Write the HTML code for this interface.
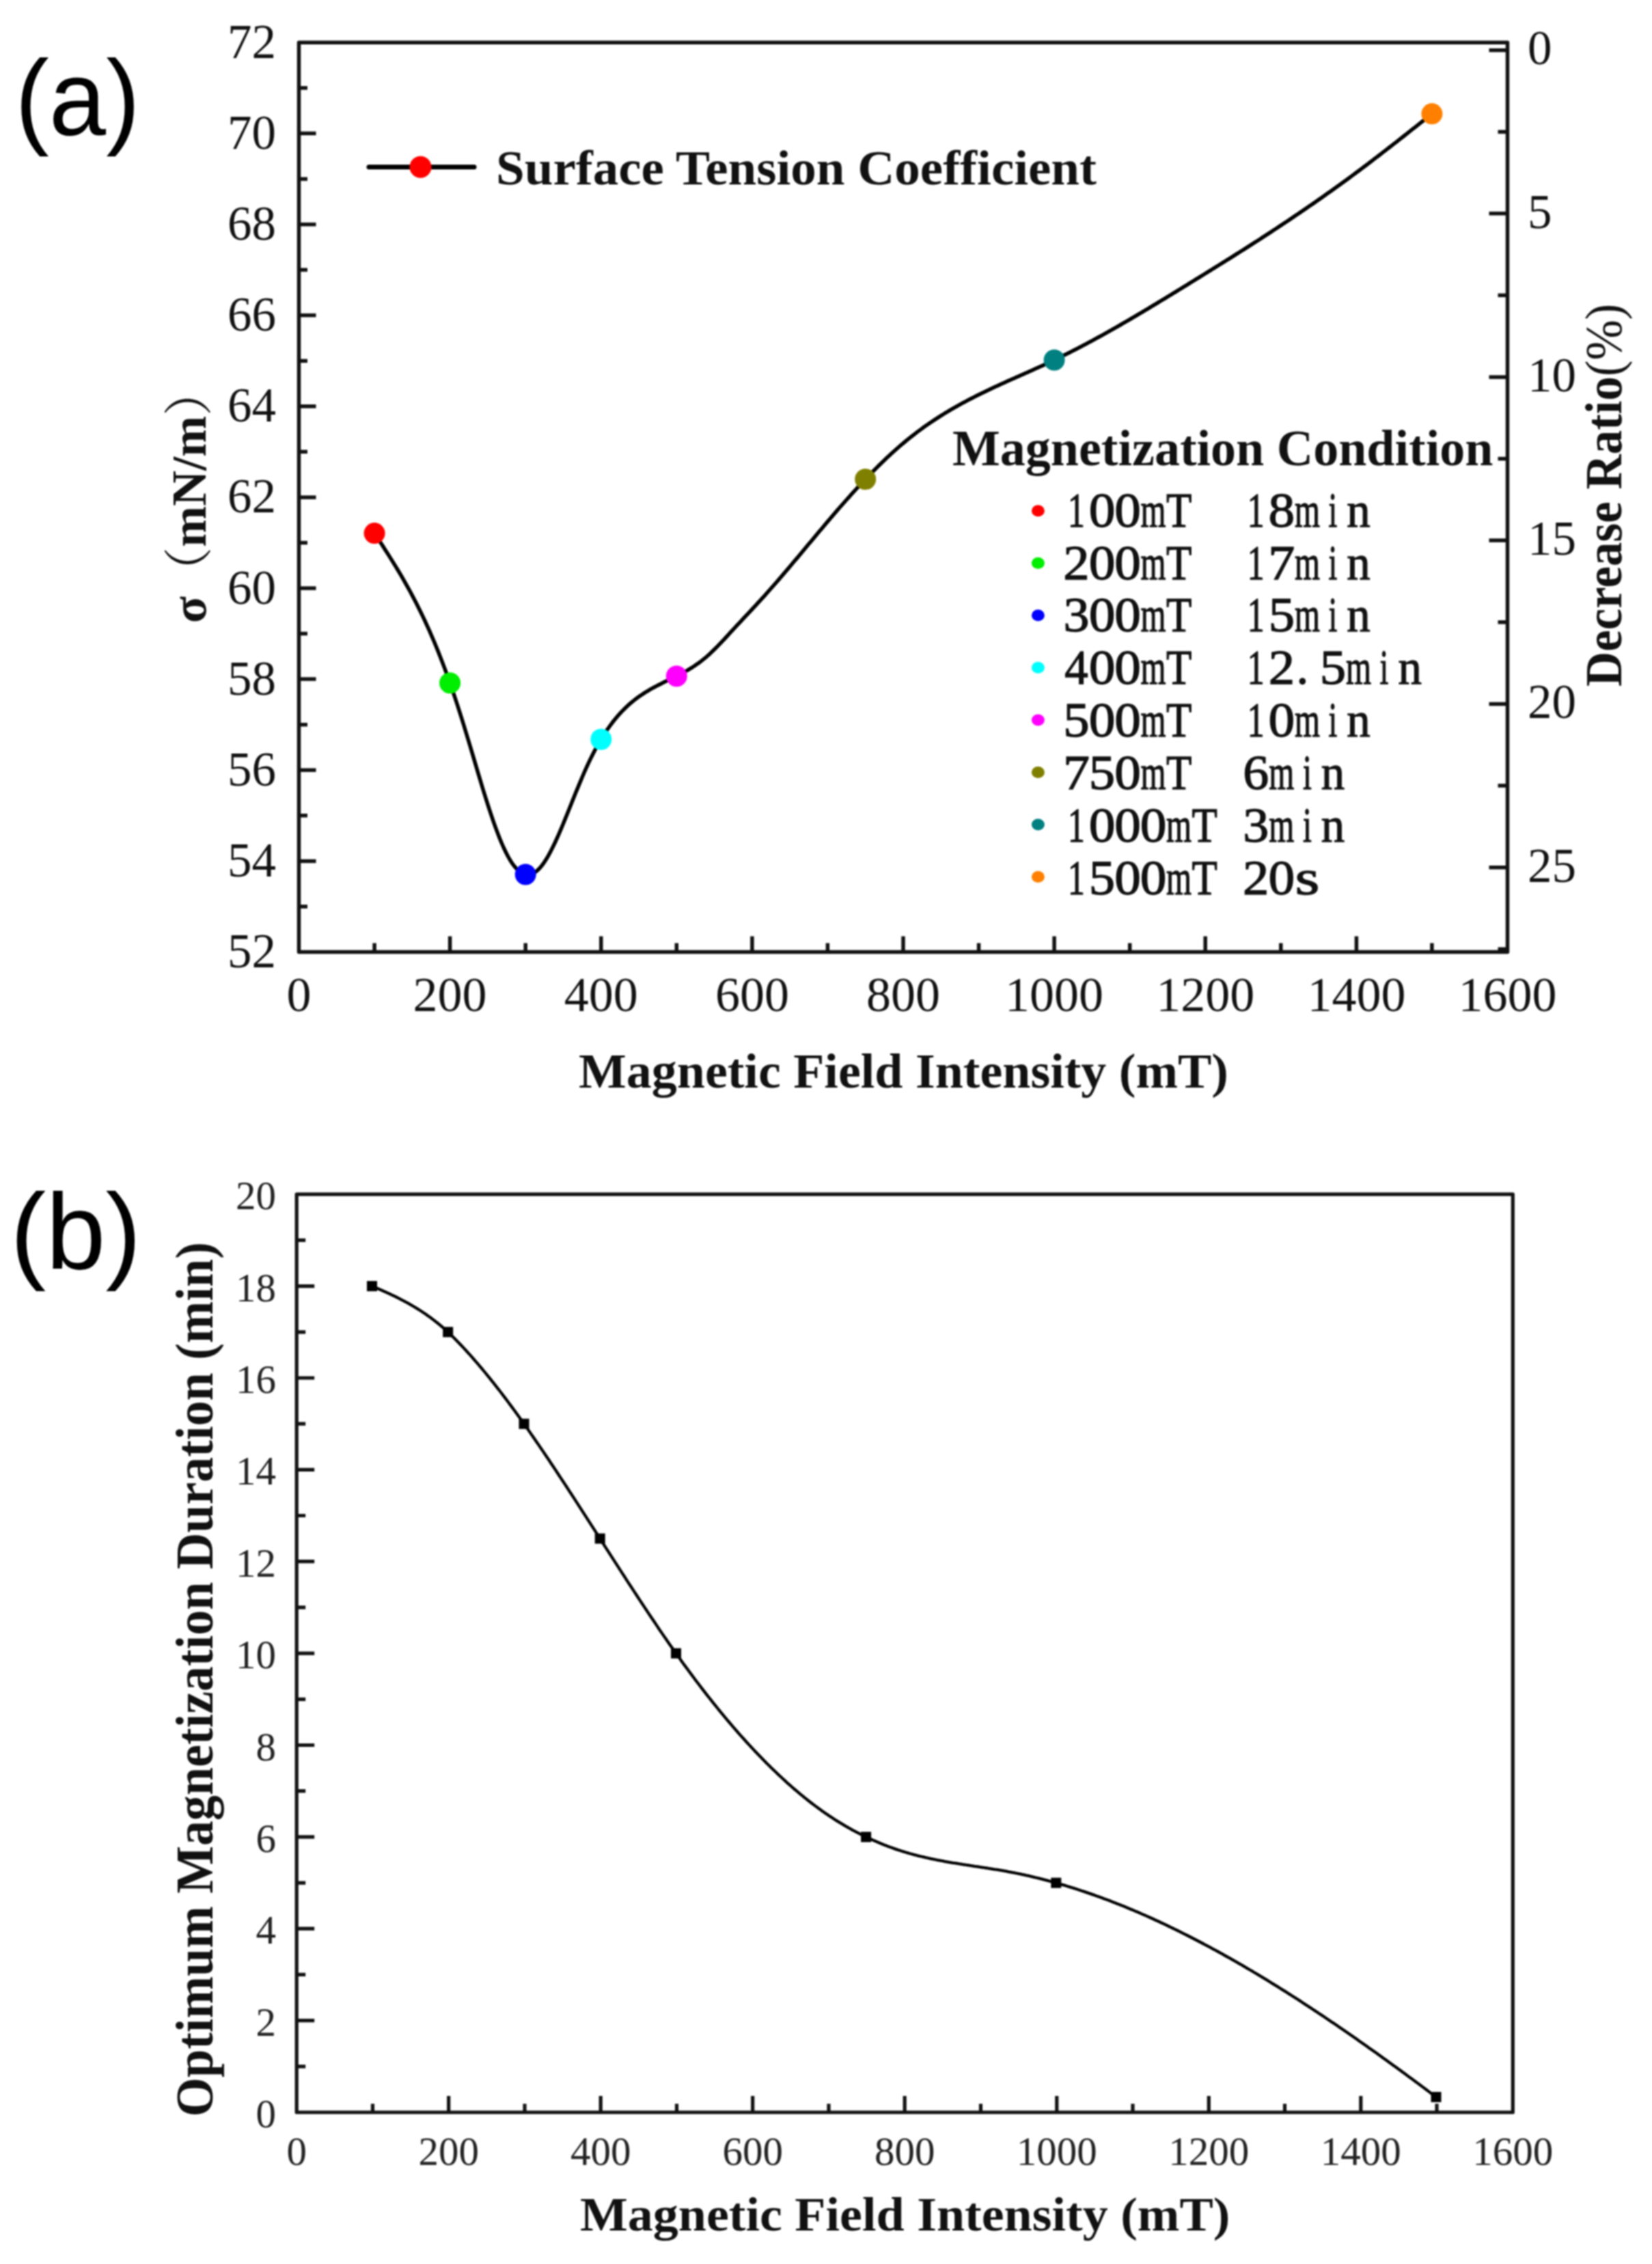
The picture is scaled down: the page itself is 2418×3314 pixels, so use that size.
<!DOCTYPE html>
<html><head><meta charset="utf-8"><title>Figure</title>
<style>html,body{margin:0;padding:0;background:#fff;}svg{display:block;filter:blur(1.1px);}</style></head>
<body><svg width="2418" height="3314" viewBox="0 0 2418 3314">
<rect width="2418" height="3314" fill="#fff"/>
<path d="M437.5 1326.9h12.5 M437.5 1260.4h25 M437.5 1193.8h12.5 M437.5 1127.2h25 M437.5 1060.7h12.5 M437.5 994.1h25 M437.5 927.5h12.5 M437.5 861h25 M437.5 794.4h12.5 M437.5 727.9h25 M437.5 661.3h12.5 M437.5 594.7h25 M437.5 528.2h12.5 M437.5 461.6h25 M437.5 395h12.5 M437.5 328.5h25 M437.5 261.9h12.5 M437.5 195.3h25 M437.5 128.8h12.5 M548.1 1393.5v-13 M658.6 1393.5v-23 M769.2 1393.5v-13 M879.8 1393.5v-23 M990.3 1393.5v-13 M1100.9 1393.5v-23 M1211.4 1393.5v-13 M1322 1393.5v-23 M1432.6 1393.5v-13 M1543.1 1393.5v-23 M1653.7 1393.5v-13 M1764.2 1393.5v-23 M1874.8 1393.5v-13 M1985.4 1393.5v-23 M2095.9 1393.5v-13 M2206.5 73.4h-27 M2206.5 193h-14 M2206.5 312.6h-27 M2206.5 432.3h-14 M2206.5 551.9h-27 M2206.5 671.5h-14 M2206.5 791.1h-27 M2206.5 910.8h-14 M2206.5 1030.4h-27 M2206.5 1150h-14 M2206.5 1269.7h-27 M2206.5 1389.3h-14" stroke="#111" stroke-width="5.5" fill="none"/>
<rect x="437.5" y="62.2" width="1769" height="1331.3" stroke="#111" stroke-width="5.5" fill="none" stroke-linejoin="round"/>
<g font-family="Liberation Serif, Times New Roman, serif" font-size="71" fill="#111" text-anchor="end">
<text x="404" y="1416">52</text>
<text x="404" y="1282.9">54</text>
<text x="404" y="1149.7">56</text>
<text x="404" y="1016.6">58</text>
<text x="404" y="883.5">60</text>
<text x="404" y="750.4">62</text>
<text x="404" y="617.2">64</text>
<text x="404" y="484.1">66</text>
<text x="404" y="351">68</text>
<text x="404" y="217.8">70</text>
<text x="404" y="84.7">72</text>
</g>
<g font-family="Liberation Serif, Times New Roman, serif" font-size="71" fill="#111" text-anchor="start">
<text x="2236" y="94.4">0</text>
<text x="2236" y="333.6">5</text>
<text x="2236" y="572.9">10</text>
<text x="2236" y="812.1">15</text>
<text x="2236" y="1051.4">20</text>
<text x="2236" y="1290.7">25</text>
</g>
<g font-family="Liberation Serif, Times New Roman, serif" font-size="72" fill="#111" text-anchor="middle">
<text x="437.5" y="1480">0</text>
<text x="658.6" y="1480">200</text>
<text x="879.8" y="1480">400</text>
<text x="1100.9" y="1480">600</text>
<text x="1322" y="1480">800</text>
<text x="1543.1" y="1480">1000</text>
<text x="1764.2" y="1480">1200</text>
<text x="1985.4" y="1480">1400</text>
<text x="2206.5" y="1480">1600</text>
</g>
<text font-family="Liberation Serif, Times New Roman, serif" font-weight="bold" font-size="72" fill="#111" x="847" y="1591.5" textLength="951" lengthAdjust="spacingAndGlyphs">Magnetic Field Intensity (mT)</text>
<text font-family="Liberation Serif, Times New Roman, serif" font-weight="bold" font-size="71" fill="#111" transform="translate(2372.5,1005) rotate(-90) scale(1,1.07)" x="0" y="0">Decrease Ratio<tspan font-weight="normal">(%)</tspan></text>
<text font-family="Liberation Serif, Times New Roman, serif" font-weight="bold" font-size="72" fill="#111" transform="translate(301,912) rotate(-90)" x="0" y="0"><tspan font-family="Liberation Serif, serif">σ</tspan><tspan font-weight="normal" font-family="Liberation Serif, Noto Serif CJK SC, serif">（</tspan>mN/m<tspan font-weight="normal" font-family="Liberation Serif, Noto Serif CJK SC, serif">）</tspan></text>
<path d="M548.1 780.6 L551.2 785.3 L554.3 790.1 L557.4 794.8 L560.5 799.6 L563.6 804.4 L566.7 809.2 L569.8 814.1 L572.9 819.1 L576 824.1 L579.1 829.1 L582.2 834.2 L585.3 839.4 L588.4 844.7 L591.5 850.1 L594.6 855.6 L597.7 861.1 L600.8 866.8 L603.9 872.6 L607 878.5 L610.1 884.5 L613.2 890.7 L616.3 897 L619.4 903.4 L622.5 910 L625.6 916.8 L628.7 923.7 L631.8 930.8 L634.9 938 L638 945.5 L641.1 953.1 L644.2 960.9 L647.3 968.9 L650.4 977.1 L653.5 985.5 L656.6 994.1 L659.7 1002.9 L662.8 1011.9 L665.9 1021.1 L669 1030.5 L672.1 1040.1 L675.2 1049.9 L678.3 1059.8 L681.4 1070 L684.5 1080.3 L687.7 1090.7 L690.8 1101.1 L693.9 1111.6 L697 1122.1 L700.1 1132.6 L703.2 1142.9 L706.3 1153.2 L709.4 1163.2 L712.5 1173.1 L715.6 1182.8 L718.7 1192.2 L721.8 1201.3 L724.9 1210.1 L728 1218.4 L731.1 1226.4 L734.2 1234 L737.3 1241 L740.4 1247.5 L743.5 1253.5 L746.6 1259 L749.7 1263.8 L752.8 1267.9 L755.9 1271.5 L759 1274.5 L762.1 1276.8 L765.2 1278.6 L768.3 1279.7 L771.4 1280.3 L774.5 1280.2 L777.6 1279.5 L780.7 1278.2 L783.8 1276.3 L786.9 1273.8 L790 1270.7 L793.1 1267 L796.2 1262.8 L799.3 1258 L802.4 1252.8 L805.5 1247.2 L808.6 1241.1 L811.7 1234.7 L814.8 1228 L817.9 1221.1 L821 1213.9 L824.1 1206.5 L827.2 1198.9 L830.3 1191.2 L833.4 1183.5 L836.5 1175.7 L839.6 1168 L842.7 1160.2 L845.9 1152.6 L849 1145.1 L852.1 1137.7 L855.2 1130.5 L858.3 1123.6 L861.4 1116.9 L864.5 1110.4 L867.6 1104.2 L870.7 1098.2 L873.8 1092.5 L876.9 1087 L880 1081.8 L883.1 1076.7 L886.2 1071.9 L889.3 1067.3 L892.4 1063 L895.5 1058.8 L898.6 1054.8 L901.7 1051 L904.8 1047.3 L907.9 1043.9 L911 1040.6 L914.1 1037.5 L917.2 1034.5 L920.3 1031.6 L923.4 1028.9 L926.5 1026.3 L929.6 1023.9 L932.7 1021.5 L935.8 1019.3 L938.9 1017.2 L942 1015.1 L945.1 1013.1 L948.2 1011.3 L951.3 1009.4 L954.4 1007.7 L957.5 1006 L960.6 1004.4 L963.7 1002.8 L966.8 1001.2 L969.9 999.6 L973 998.1 L976.1 996.6 L979.2 995.1 L982.3 993.6 L985.4 992.1 L988.5 990.5 L991.6 989 L994.7 987.4 L997.8 985.8 L1000.9 984.1 L1004 982.4 L1007.2 980.6 L1010.3 978.7 L1013.4 976.8 L1016.5 974.8 L1019.6 972.6 L1022.7 970.4 L1025.8 968.1 L1028.9 965.7 L1032 963.2 L1035.1 960.5 L1038.2 957.7 L1041.3 954.8 L1044.4 951.8 L1047.5 948.7 L1050.6 945.6 L1053.7 942.4 L1056.8 939.1 L1059.9 935.8 L1063 932.5 L1066.1 929.1 L1069.2 925.7 L1072.3 922.4 L1075.4 919 L1078.5 915.7 L1081.6 912.4 L1084.7 909.1 L1087.8 905.7 L1090.9 902.4 L1094 899.1 L1097.1 895.8 L1100.2 892.5 L1103.3 889.1 L1106.4 885.8 L1109.5 882.4 L1112.6 879.1 L1115.7 875.7 L1118.8 872.3 L1121.9 868.8 L1125 865.3 L1128.1 861.8 L1131.2 858.3 L1134.3 854.8 L1137.4 851.2 L1140.5 847.6 L1143.6 844 L1146.7 840.4 L1149.8 836.7 L1152.9 833.1 L1156 829.4 L1159.1 825.8 L1162.2 822.1 L1165.4 818.4 L1168.5 814.7 L1171.6 811 L1174.7 807.3 L1177.8 803.5 L1180.9 799.8 L1184 796.1 L1187.1 792.4 L1190.2 788.7 L1193.3 785 L1196.4 781.3 L1199.5 777.6 L1202.6 773.9 L1205.7 770.2 L1208.8 766.5 L1211.9 762.9 L1215 759.2 L1218.1 755.6 L1221.2 752 L1224.3 748.4 L1227.4 744.8 L1230.5 741.3 L1233.6 737.7 L1236.7 734.2 L1239.8 730.7 L1242.9 727.3 L1246 723.8 L1249.1 720.4 L1252.2 717 L1255.3 713.6 L1258.4 710.3 L1261.5 707 L1264.6 703.7 L1267.7 700.4 L1270.8 697.2 L1273.9 694 L1277 690.8 L1280.1 687.7 L1283.2 684.6 L1286.3 681.5 L1289.4 678.5 L1292.5 675.5 L1295.6 672.5 L1298.7 669.6 L1301.8 666.7 L1304.9 663.8 L1308 661 L1311.1 658.2 L1314.2 655.5 L1317.3 652.8 L1320.4 650.1 L1323.6 647.5 L1326.7 644.9 L1329.8 642.4 L1332.9 639.9 L1336 637.5 L1339.1 635.1 L1342.2 632.7 L1345.3 630.4 L1348.4 628.1 L1351.5 625.8 L1354.6 623.6 L1357.7 621.5 L1360.8 619.3 L1363.9 617.2 L1367 615.1 L1370.1 613.1 L1373.2 611.1 L1376.3 609.1 L1379.4 607.2 L1382.5 605.2 L1385.6 603.4 L1388.7 601.5 L1391.8 599.7 L1394.9 597.9 L1398 596.1 L1401.1 594.3 L1404.2 592.6 L1407.3 590.9 L1410.4 589.2 L1413.5 587.6 L1416.6 585.9 L1419.7 584.3 L1422.8 582.7 L1425.9 581.1 L1429 579.5 L1432.1 578 L1435.2 576.5 L1438.3 574.9 L1441.4 573.4 L1444.5 571.9 L1447.6 570.5 L1450.7 569 L1453.8 567.5 L1456.9 566.1 L1460 564.7 L1463.1 563.2 L1466.2 561.8 L1469.3 560.4 L1472.4 559 L1475.5 557.6 L1478.6 556.2 L1481.8 554.8 L1484.9 553.5 L1488 552.1 L1491.1 550.7 L1494.2 549.3 L1497.3 547.9 L1500.4 546.5 L1503.5 545.2 L1506.6 543.8 L1509.7 542.4 L1512.8 541 L1515.9 539.6 L1519 538.2 L1522.1 536.8 L1525.2 535.4 L1528.3 533.9 L1531.4 532.5 L1534.5 531.1 L1537.6 529.6 L1540.7 528.1 L1543.8 526.7 L1546.9 525.2 L1550 523.7 L1553.1 522.2 L1556.2 520.6 L1559.3 519.1 L1562.4 517.5 L1565.5 516 L1568.6 514.4 L1571.7 512.8 L1574.8 511.2 L1577.9 509.6 L1581 508 L1584.1 506.4 L1587.2 504.7 L1590.3 503.1 L1593.4 501.4 L1596.5 499.8 L1599.6 498.1 L1602.7 496.4 L1605.8 494.7 L1608.9 493 L1612 491.3 L1615.1 489.6 L1618.2 487.8 L1621.3 486.1 L1624.4 484.3 L1627.5 482.6 L1630.6 480.8 L1633.7 479.1 L1636.8 477.3 L1640 475.5 L1643.1 473.7 L1646.2 471.9 L1649.3 470.1 L1652.4 468.3 L1655.5 466.5 L1658.6 464.7 L1661.7 462.8 L1664.8 461 L1667.9 459.2 L1671 457.3 L1674.1 455.5 L1677.2 453.6 L1680.3 451.8 L1683.4 449.9 L1686.5 448 L1689.6 446.2 L1692.7 444.3 L1695.8 442.4 L1698.9 440.5 L1702 438.6 L1705.1 436.8 L1708.2 434.9 L1711.3 433 L1714.4 431.1 L1717.5 429.2 L1720.6 427.3 L1723.7 425.4 L1726.8 423.5 L1729.9 421.6 L1733 419.7 L1736.1 417.8 L1739.2 415.9 L1742.3 413.9 L1745.4 412 L1748.5 410.1 L1751.6 408.2 L1754.7 406.3 L1757.8 404.4 L1760.9 402.5 L1764 400.5 L1767.1 398.6 L1770.2 396.7 L1773.3 394.8 L1776.4 392.8 L1779.5 390.9 L1782.6 389 L1785.7 387 L1788.8 385.1 L1791.9 383.2 L1795 381.2 L1798.1 379.3 L1801.3 377.3 L1804.4 375.4 L1807.5 373.4 L1810.6 371.4 L1813.7 369.5 L1816.8 367.5 L1819.9 365.6 L1823 363.6 L1826.1 361.6 L1829.2 359.6 L1832.3 357.6 L1835.4 355.6 L1838.5 353.7 L1841.6 351.7 L1844.7 349.7 L1847.8 347.6 L1850.9 345.6 L1854 343.6 L1857.1 341.6 L1860.2 339.6 L1863.3 337.5 L1866.4 335.5 L1869.5 333.5 L1872.6 331.4 L1875.7 329.4 L1878.8 327.3 L1881.9 325.2 L1885 323.2 L1888.1 321.1 L1891.2 319 L1894.3 316.9 L1897.4 314.8 L1900.5 312.7 L1903.6 310.6 L1906.7 308.5 L1909.8 306.4 L1912.9 304.3 L1916 302.1 L1919.1 300 L1922.2 297.9 L1925.3 295.7 L1928.4 293.5 L1931.5 291.4 L1934.6 289.2 L1937.7 287 L1940.8 284.8 L1943.9 282.6 L1947 280.4 L1950.1 278.2 L1953.2 276 L1956.3 273.8 L1959.5 271.5 L1962.6 269.3 L1965.7 267 L1968.8 264.8 L1971.9 262.5 L1975 260.2 L1978.1 257.9 L1981.2 255.6 L1984.3 253.3 L1987.4 251 L1990.5 248.7 L1993.6 246.4 L1996.7 244 L1999.8 241.7 L2002.9 239.3 L2006 237 L2009.1 234.6 L2012.2 232.2 L2015.3 229.9 L2018.4 227.5 L2021.5 225.1 L2024.6 222.7 L2027.7 220.3 L2030.8 217.9 L2033.9 215.5 L2037 213.1 L2040.1 210.7 L2043.2 208.3 L2046.3 205.8 L2049.4 203.4 L2052.5 201 L2055.6 198.5 L2058.7 196.1 L2061.8 193.6 L2064.9 191.2 L2068 188.7 L2071.1 186.3 L2074.2 183.8 L2077.3 181.4 L2080.4 178.9 L2083.5 176.5 L2086.6 174 L2089.7 171.5 L2092.8 169.1 L2095.9 166.6" stroke="#000" stroke-width="5.5" fill="none" stroke-linejoin="round" stroke-linecap="round"/>
<circle cx="548.1" cy="780.6" r="15.5" fill="#ff0000"/>
<circle cx="658.6" cy="999.7" r="15.5" fill="#00ee00"/>
<circle cx="769.2" cy="1280" r="15.5" fill="#0000ff"/>
<circle cx="879.8" cy="1082.2" r="15.5" fill="#00ffff"/>
<circle cx="990.3" cy="989.7" r="15.5" fill="#ff00ff"/>
<circle cx="1266.7" cy="701.5" r="15.5" fill="#808000"/>
<circle cx="1543.1" cy="527" r="15.5" fill="#008080"/>
<circle cx="2095.9" cy="166.6" r="15.5" fill="#ff8000"/>
<path d="M540 244.5H694" stroke="#000" stroke-width="7" stroke-linecap="round"/>
<circle cx="615.5" cy="244.5" r="16" fill="#ff0000"/>
<text font-family="Liberation Serif, Times New Roman, serif" font-weight="bold" font-size="72" fill="#111" x="726" y="269.5" textLength="879" lengthAdjust="spacingAndGlyphs">Surface Tension Coefficient</text>
<text font-family="Liberation Serif, Times New Roman, serif" font-weight="bold" font-size="74" fill="#111" x="1394" y="681">Magnetization Condition</text>
<g font-family="Liberation Serif, Times New Roman, serif" font-size="71" fill="#111" stroke="#111" stroke-width="1.3" text-anchor="middle">
<ellipse cx="1519.4" cy="747.7" rx="9.5" ry="8.5" fill="#ff0000" stroke="none"/>
<text transform="translate(1575.4,770.6) scale(0.7,1)">1</text>
<text transform="translate(1613,770.6) scale(1.09,1)">0</text>
<text transform="translate(1650.5,770.6) scale(1.09,1)">0</text>
<text transform="translate(1688.1,770.6) scale(0.67,1)">m</text>
<text transform="translate(1725.6,770.6) scale(0.86,1)">T</text>
<text transform="translate(1838.2,770.6) scale(0.7,1)">1</text>
<text transform="translate(1875.8,770.6) scale(1.09,1)">8</text>
<text transform="translate(1913.4,770.6) scale(0.67,1)">m</text>
<text transform="translate(1950.9,770.6) scale(0.65,1)">i</text>
<text transform="translate(1988.5,770.6) scale(0.97,1)">n</text>
<ellipse cx="1519.4" cy="824.2" rx="9.5" ry="8.5" fill="#00ee00" stroke="none"/>
<text transform="translate(1575.4,847.5) scale(1.08,1)">2</text>
<text transform="translate(1613,847.5) scale(1.09,1)">0</text>
<text transform="translate(1650.5,847.5) scale(1.09,1)">0</text>
<text transform="translate(1688.1,847.5) scale(0.67,1)">m</text>
<text transform="translate(1725.6,847.5) scale(0.86,1)">T</text>
<text transform="translate(1838.2,847.5) scale(0.7,1)">1</text>
<text transform="translate(1875.8,847.5) scale(1.1,1)">7</text>
<text transform="translate(1913.4,847.5) scale(0.67,1)">m</text>
<text transform="translate(1950.9,847.5) scale(0.65,1)">i</text>
<text transform="translate(1988.5,847.5) scale(0.97,1)">n</text>
<ellipse cx="1519.4" cy="900.8" rx="9.5" ry="8.5" fill="#0000ff" stroke="none"/>
<text transform="translate(1575.4,924.4) scale(1.07,1)">3</text>
<text transform="translate(1613,924.4) scale(1.09,1)">0</text>
<text transform="translate(1650.5,924.4) scale(1.09,1)">0</text>
<text transform="translate(1688.1,924.4) scale(0.67,1)">m</text>
<text transform="translate(1725.6,924.4) scale(0.86,1)">T</text>
<text transform="translate(1838.2,924.4) scale(0.7,1)">1</text>
<text transform="translate(1875.8,924.4) scale(1.08,1)">5</text>
<text transform="translate(1913.4,924.4) scale(0.67,1)">m</text>
<text transform="translate(1950.9,924.4) scale(0.65,1)">i</text>
<text transform="translate(1988.5,924.4) scale(0.97,1)">n</text>
<ellipse cx="1519.4" cy="977.3" rx="9.5" ry="8.5" fill="#00ffff" stroke="none"/>
<text transform="translate(1575.4,1001.3) scale(0.97,1)">4</text>
<text transform="translate(1613,1001.3) scale(1.09,1)">0</text>
<text transform="translate(1650.5,1001.3) scale(1.09,1)">0</text>
<text transform="translate(1688.1,1001.3) scale(0.67,1)">m</text>
<text transform="translate(1725.6,1001.3) scale(0.86,1)">T</text>
<text transform="translate(1838.2,1001.3) scale(0.7,1)">1</text>
<text transform="translate(1875.8,1001.3) scale(1.08,1)">2</text>
<text transform="translate(1906.4,1001.3) scale(1.0,1)">.</text>
<text transform="translate(1950.9,1001.3) scale(1.08,1)">5</text>
<text transform="translate(1988.5,1001.3) scale(0.67,1)">m</text>
<text transform="translate(2026,1001.3) scale(0.65,1)">i</text>
<text transform="translate(2063.6,1001.3) scale(0.97,1)">n</text>
<ellipse cx="1519.4" cy="1053.9" rx="9.5" ry="8.5" fill="#ff00ff" stroke="none"/>
<text transform="translate(1575.4,1078.2) scale(1.08,1)">5</text>
<text transform="translate(1613,1078.2) scale(1.09,1)">0</text>
<text transform="translate(1650.5,1078.2) scale(1.09,1)">0</text>
<text transform="translate(1688.1,1078.2) scale(0.67,1)">m</text>
<text transform="translate(1725.6,1078.2) scale(0.86,1)">T</text>
<text transform="translate(1838.2,1078.2) scale(0.7,1)">1</text>
<text transform="translate(1875.8,1078.2) scale(1.09,1)">0</text>
<text transform="translate(1913.4,1078.2) scale(0.67,1)">m</text>
<text transform="translate(1950.9,1078.2) scale(0.65,1)">i</text>
<text transform="translate(1988.5,1078.2) scale(0.97,1)">n</text>
<ellipse cx="1519.4" cy="1130.4" rx="9.5" ry="8.5" fill="#808000" stroke="none"/>
<text transform="translate(1575.4,1155.1) scale(1.1,1)">7</text>
<text transform="translate(1613,1155.1) scale(1.08,1)">5</text>
<text transform="translate(1650.5,1155.1) scale(1.09,1)">0</text>
<text transform="translate(1688.1,1155.1) scale(0.67,1)">m</text>
<text transform="translate(1725.6,1155.1) scale(0.86,1)">T</text>
<text transform="translate(1838.2,1155.1) scale(1.07,1)">6</text>
<text transform="translate(1875.8,1155.1) scale(0.67,1)">m</text>
<text transform="translate(1913.4,1155.1) scale(0.65,1)">i</text>
<text transform="translate(1950.9,1155.1) scale(0.97,1)">n</text>
<ellipse cx="1519.4" cy="1206.9" rx="9.5" ry="8.5" fill="#008080" stroke="none"/>
<text transform="translate(1575.4,1232) scale(0.7,1)">1</text>
<text transform="translate(1613,1232) scale(1.09,1)">0</text>
<text transform="translate(1650.5,1232) scale(1.09,1)">0</text>
<text transform="translate(1688.1,1232) scale(1.09,1)">0</text>
<text transform="translate(1725.6,1232) scale(0.67,1)">m</text>
<text transform="translate(1763.2,1232) scale(0.86,1)">T</text>
<text transform="translate(1838.2,1232) scale(1.07,1)">3</text>
<text transform="translate(1875.8,1232) scale(0.67,1)">m</text>
<text transform="translate(1913.4,1232) scale(0.65,1)">i</text>
<text transform="translate(1950.9,1232) scale(0.97,1)">n</text>
<ellipse cx="1519.4" cy="1283.5" rx="9.5" ry="8.5" fill="#ff8000" stroke="none"/>
<text transform="translate(1575.4,1308.9) scale(0.7,1)">1</text>
<text transform="translate(1613,1308.9) scale(1.08,1)">5</text>
<text transform="translate(1650.5,1308.9) scale(1.09,1)">0</text>
<text transform="translate(1688.1,1308.9) scale(1.09,1)">0</text>
<text transform="translate(1725.6,1308.9) scale(0.67,1)">m</text>
<text transform="translate(1763.2,1308.9) scale(0.86,1)">T</text>
<text transform="translate(1838.2,1308.9) scale(1.08,1)">2</text>
<text transform="translate(1875.8,1308.9) scale(1.09,1)">0</text>
<text transform="translate(1913.4,1308.9) scale(1.3,1)">s</text>
</g>
<text font-family="Liberation Sans, Arial, sans-serif" font-size="156" fill="#000" transform="translate(22,197) scale(0.96,1)">(a)</text>
<path d="M434.2 3024.8h13 M434.2 2957.6h26 M434.2 2890.4h13 M434.2 2823.2h26 M434.2 2756.1h13 M434.2 2688.9h26 M434.2 2621.7h13 M434.2 2554.5h26 M434.2 2487.3h13 M434.2 2420.1h26 M434.2 2352.9h13 M434.2 2285.7h26 M434.2 2218.5h13 M434.2 2151.3h26 M434.2 2084.2h13 M434.2 2017h26 M434.2 1949.8h13 M434.2 1882.6h26 M434.2 1815.4h13 M545.5 3092v-12.5 M656.7 3092v-24 M768 3092v-12.5 M879.2 3092v-24 M990.5 3092v-12.5 M1101.7 3092v-24 M1213 3092v-12.5 M1324.2 3092v-24 M1435.5 3092v-12.5 M1546.8 3092v-24 M1658 3092v-12.5 M1769.3 3092v-24 M1880.5 3092v-12.5 M1991.8 3092v-24 M2103 3092v-12.5" stroke="#111" stroke-width="5.2" fill="none"/>
<rect x="434.2" y="1748.2" width="1780.1" height="1343.8" stroke="#111" stroke-width="5.2" fill="none" stroke-linejoin="round"/>
<g font-family="Liberation Serif, Times New Roman, serif" font-size="59" fill="#222" text-anchor="end">
<text x="404" y="3114">0</text>
<text x="404" y="2979.6">2</text>
<text x="404" y="2845.2">4</text>
<text x="404" y="2710.9">6</text>
<text x="404" y="2576.5">8</text>
<text x="404" y="2442.1">10</text>
<text x="404" y="2307.7">12</text>
<text x="404" y="2173.3">14</text>
<text x="404" y="2039">16</text>
<text x="404" y="1904.6">18</text>
<text x="404" y="1770.2">20</text>
</g>
<g font-family="Liberation Serif, Times New Roman, serif" font-size="59" fill="#222" text-anchor="middle">
<text x="434.2" y="3169">0</text>
<text x="656.7" y="3169">200</text>
<text x="879.2" y="3169">400</text>
<text x="1101.7" y="3169">600</text>
<text x="1324.2" y="3169">800</text>
<text x="1546.8" y="3169">1000</text>
<text x="1769.3" y="3169">1200</text>
<text x="1991.8" y="3169">1400</text>
<text x="2214.3" y="3169">1600</text>
</g>
<text font-family="Liberation Serif, Times New Roman, serif" font-weight="bold" font-size="70.5" fill="#111" x="849" y="3264.5" textLength="951.5" lengthAdjust="spacingAndGlyphs">Magnetic Field Intensity (mT)</text>
<text font-family="Liberation Serif, Times New Roman, serif" font-weight="bold" font-size="74" fill="#111" transform="translate(310.7,3098.5) rotate(-90) scale(1,1.055)" x="0" y="0">Optimum Magnetization Duration (min)</text>
<path d="M544.5 1882.6 L546.3 1883.4 L548.2 1884.2 L550.1 1885 L552 1885.8 L553.9 1886.6 L555.8 1887.4 L557.7 1888.2 L559.5 1889.1 L561.4 1889.9 L563.3 1890.7 L565.2 1891.6 L567.1 1892.5 L569 1893.3 L570.9 1894.2 L572.7 1895.1 L574.6 1896 L576.5 1896.9 L578.4 1897.8 L580.3 1898.7 L582.2 1899.7 L584.1 1900.6 L585.9 1901.6 L587.8 1902.6 L589.7 1903.6 L591.6 1904.6 L593.5 1905.6 L595.4 1906.6 L597.3 1907.7 L599.1 1908.7 L601 1909.8 L602.9 1910.9 L604.8 1912 L606.7 1913.1 L608.6 1914.3 L610.5 1915.4 L612.3 1916.6 L614.2 1917.8 L616.1 1919 L618 1920.3 L619.9 1921.5 L621.8 1922.8 L623.7 1924.1 L625.5 1925.4 L627.4 1926.8 L629.3 1928.1 L631.2 1929.5 L633.1 1930.9 L635 1932.4 L636.9 1933.8 L638.7 1935.3 L640.6 1936.8 L642.5 1938.3 L644.4 1939.9 L646.3 1941.5 L648.2 1943.1 L650.1 1944.7 L651.9 1946.4 L653.8 1948.1 L655.7 1949.8 L658.6 1952.6 L661.5 1955.5 L664.4 1958.3 L667.3 1961.3 L670.2 1964.2 L673.1 1967.3 L676 1970.3 L678.9 1973.4 L681.8 1976.5 L684.7 1979.7 L687.6 1982.9 L690.5 1986.2 L693.4 1989.5 L696.3 1992.8 L699.2 1996.2 L702.1 1999.6 L705 2003 L707.9 2006.5 L710.8 2010 L713.7 2013.6 L716.6 2017.1 L719.5 2020.8 L722.4 2024.4 L725.3 2028.1 L728.2 2031.8 L731.1 2035.5 L734 2039.3 L736.9 2043.1 L739.8 2046.9 L742.7 2050.8 L745.6 2054.7 L748.5 2058.6 L751.4 2062.5 L754.3 2066.5 L757.2 2070.5 L760.1 2074.5 L763 2078.6 L765.9 2082.6 L768.8 2086.7 L771.7 2090.8 L774.5 2094.9 L777.4 2099.1 L780.3 2103.3 L783.2 2107.5 L786.1 2111.7 L789 2115.9 L791.9 2120.2 L794.8 2124.4 L797.7 2128.7 L800.6 2133 L803.5 2137.3 L806.4 2141.7 L809.3 2146 L812.2 2150.4 L815.1 2154.8 L818 2159.2 L820.9 2163.6 L823.8 2168 L826.7 2172.4 L829.6 2176.8 L832.5 2181.3 L835.4 2185.7 L838.3 2190.2 L841.2 2194.7 L844.1 2199.1 L847 2203.6 L849.9 2208.1 L852.8 2212.6 L855.7 2217.1 L858.6 2221.6 L861.5 2226.1 L864.4 2230.6 L867.3 2235.2 L870.2 2239.7 L873.1 2244.2 L876 2248.7 L878.9 2253.3 L881.8 2257.8 L884.7 2262.3 L887.6 2266.8 L890.5 2271.3 L893.4 2275.9 L896.3 2280.4 L899.2 2284.9 L902.1 2289.4 L905 2293.9 L907.9 2298.4 L910.8 2302.9 L913.7 2307.3 L916.6 2311.8 L919.5 2316.3 L922.4 2320.7 L925.3 2325.2 L928.2 2329.6 L931.1 2334 L934 2338.5 L936.9 2342.9 L939.8 2347.3 L942.7 2351.6 L945.6 2356 L948.5 2360.4 L951.4 2364.7 L954.3 2369 L957.2 2373.3 L960.1 2377.6 L962.9 2381.9 L965.8 2386.2 L968.7 2390.4 L971.6 2394.6 L974.5 2398.8 L977.4 2403 L980.3 2407.2 L983.2 2411.3 L986.1 2415.4 L989 2419.5 L991.9 2423.6 L994.8 2427.6 L997.7 2431.7 L1000.6 2435.7 L1003.5 2439.6 L1006.4 2443.6 L1009.3 2447.5 L1012.2 2451.4 L1015.1 2455.3 L1018 2459.2 L1020.9 2463 L1023.8 2466.8 L1026.7 2470.6 L1029.6 2474.4 L1032.5 2478.1 L1035.4 2481.8 L1038.3 2485.5 L1041.2 2489.2 L1044.1 2492.8 L1047 2496.4 L1049.9 2500 L1052.8 2503.6 L1055.7 2507.1 L1058.6 2510.6 L1061.5 2514.1 L1064.4 2517.6 L1067.3 2521 L1070.2 2524.4 L1073.1 2527.8 L1076 2531.2 L1078.9 2534.5 L1081.8 2537.8 L1084.7 2541.1 L1087.6 2544.3 L1090.5 2547.5 L1093.4 2550.7 L1096.3 2553.9 L1099.2 2557 L1102.1 2560.1 L1105 2563.2 L1107.9 2566.3 L1110.8 2569.3 L1113.7 2572.3 L1116.6 2575.3 L1119.5 2578.2 L1122.4 2581.2 L1125.3 2584 L1128.2 2586.9 L1131.1 2589.7 L1134 2592.5 L1136.9 2595.3 L1139.8 2598.1 L1142.7 2600.8 L1145.6 2603.5 L1148.5 2606.1 L1151.3 2608.8 L1154.2 2611.4 L1157.1 2613.9 L1160 2616.5 L1162.9 2619 L1165.8 2621.4 L1168.7 2623.9 L1171.6 2626.3 L1174.5 2628.7 L1177.4 2631.1 L1180.3 2633.4 L1183.2 2635.7 L1186.1 2638 L1189 2640.2 L1191.9 2642.4 L1194.8 2644.6 L1197.7 2646.7 L1200.6 2648.8 L1203.5 2650.9 L1206.4 2652.9 L1209.3 2655 L1212.2 2656.9 L1215.1 2658.9 L1218 2660.8 L1220.9 2662.7 L1223.8 2664.6 L1226.7 2666.4 L1229.6 2668.2 L1232.5 2669.9 L1235.4 2671.7 L1238.3 2673.4 L1241.2 2675 L1244.1 2676.7 L1247 2678.3 L1249.9 2679.9 L1252.8 2681.4 L1255.7 2682.9 L1258.6 2684.4 L1261.5 2685.9 L1264.4 2687.3 L1267.3 2688.7 L1270.2 2690.1 L1273.1 2691.5 L1276 2692.8 L1278.9 2694.1 L1281.8 2695.3 L1284.7 2696.6 L1287.6 2697.8 L1290.5 2699 L1293.4 2700.2 L1296.3 2701.3 L1299.2 2702.4 L1302.1 2703.5 L1305 2704.5 L1307.9 2705.6 L1310.8 2706.6 L1313.7 2707.6 L1316.6 2708.5 L1319.5 2709.5 L1322.4 2710.4 L1325.3 2711.3 L1328.2 2712.1 L1331.1 2713 L1334 2713.8 L1336.9 2714.6 L1339.7 2715.3 L1342.6 2716.1 L1345.5 2716.8 L1348.4 2717.5 L1351.3 2718.2 L1354.2 2718.9 L1357.1 2719.5 L1360 2720.2 L1362.9 2720.8 L1365.8 2721.4 L1368.7 2722 L1371.6 2722.6 L1374.5 2723.1 L1377.4 2723.7 L1380.3 2724.2 L1383.2 2724.8 L1386.1 2725.3 L1389 2725.8 L1391.9 2726.3 L1394.8 2726.8 L1397.7 2727.2 L1400.6 2727.7 L1403.5 2728.2 L1406.4 2728.6 L1409.3 2729.1 L1412.2 2729.5 L1415.1 2730 L1418 2730.4 L1420.9 2730.9 L1423.8 2731.3 L1426.7 2731.8 L1429.6 2732.2 L1432.5 2732.6 L1435.4 2733.1 L1438.3 2733.5 L1441.2 2734 L1444.1 2734.4 L1447 2734.9 L1449.9 2735.3 L1452.8 2735.8 L1455.7 2736.3 L1458.6 2736.7 L1461.5 2737.2 L1464.4 2737.7 L1467.3 2738.2 L1470.2 2738.7 L1473.1 2739.2 L1476 2739.8 L1478.9 2740.3 L1481.8 2740.9 L1484.7 2741.4 L1487.6 2742 L1490.5 2742.6 L1493.4 2743.2 L1496.3 2743.8 L1499.2 2744.4 L1502.1 2745.1 L1505 2745.7 L1507.9 2746.4 L1510.8 2747.1 L1513.7 2747.8 L1516.6 2748.5 L1519.5 2749.2 L1522.4 2749.9 L1525.3 2750.6 L1528.1 2751.4 L1531 2752.1 L1533.9 2752.9 L1536.8 2753.7 L1539.7 2754.5 L1542.6 2755.3 L1545.5 2756.1 L1548.4 2756.9 L1551.3 2757.7 L1554.2 2758.6 L1557.1 2759.4 L1560 2760.3 L1562.9 2761.2 L1565.8 2762.1 L1568.7 2763 L1571.6 2763.9 L1574.5 2764.8 L1577.4 2765.8 L1580.3 2766.7 L1583.2 2767.7 L1586.1 2768.6 L1589 2769.6 L1591.9 2770.6 L1594.8 2771.6 L1597.7 2772.6 L1600.6 2773.6 L1603.5 2774.7 L1606.4 2775.7 L1609.3 2776.7 L1612.2 2777.8 L1615.1 2778.9 L1618 2780 L1620.9 2781 L1623.8 2782.1 L1626.7 2783.3 L1629.6 2784.4 L1632.5 2785.5 L1635.4 2786.7 L1638.3 2787.8 L1641.2 2789 L1644.1 2790.1 L1647 2791.3 L1649.9 2792.5 L1652.8 2793.7 L1655.7 2794.9 L1658.6 2796.1 L1661.5 2797.4 L1664.4 2798.6 L1667.3 2799.8 L1670.2 2801.1 L1673.1 2802.4 L1676 2803.6 L1678.9 2804.9 L1681.8 2806.2 L1684.7 2807.5 L1687.6 2808.8 L1690.5 2810.2 L1693.4 2811.5 L1696.3 2812.8 L1699.2 2814.2 L1702.1 2815.5 L1705 2816.9 L1707.9 2818.3 L1710.8 2819.7 L1713.7 2821.1 L1716.5 2822.5 L1719.4 2823.9 L1722.3 2825.3 L1725.2 2826.7 L1728.1 2828.2 L1731 2829.6 L1733.9 2831.1 L1736.8 2832.5 L1739.7 2834 L1742.6 2835.5 L1745.5 2837 L1748.4 2838.5 L1751.3 2840 L1754.2 2841.5 L1757.1 2843 L1760 2844.5 L1762.9 2846.1 L1765.8 2847.6 L1768.7 2849.2 L1771.6 2850.7 L1774.5 2852.3 L1777.4 2853.9 L1780.3 2855.4 L1783.2 2857 L1786.1 2858.6 L1789 2860.2 L1791.9 2861.9 L1794.8 2863.5 L1797.7 2865.1 L1800.6 2866.7 L1803.5 2868.4 L1806.4 2870 L1809.3 2871.7 L1812.2 2873.4 L1815.1 2875 L1818 2876.7 L1820.9 2878.4 L1823.8 2880.1 L1826.7 2881.8 L1829.6 2883.5 L1832.5 2885.2 L1835.4 2887 L1838.3 2888.7 L1841.2 2890.4 L1844.1 2892.2 L1847 2893.9 L1849.9 2895.7 L1852.8 2897.4 L1855.7 2899.2 L1858.6 2901 L1861.5 2902.8 L1864.4 2904.6 L1867.3 2906.4 L1870.2 2908.2 L1873.1 2910 L1876 2911.8 L1878.9 2913.6 L1881.8 2915.4 L1884.7 2917.3 L1887.6 2919.1 L1890.5 2921 L1893.4 2922.8 L1896.3 2924.7 L1899.2 2926.5 L1902.1 2928.4 L1904.9 2930.3 L1907.8 2932.2 L1910.7 2934.1 L1913.6 2936 L1916.5 2937.9 L1919.4 2939.8 L1922.3 2941.7 L1925.2 2943.6 L1928.1 2945.5 L1931 2947.5 L1933.9 2949.4 L1936.8 2951.3 L1939.7 2953.3 L1942.6 2955.2 L1945.5 2957.2 L1948.4 2959.2 L1951.3 2961.1 L1954.2 2963.1 L1957.1 2965.1 L1960 2967.1 L1962.9 2969 L1965.8 2971 L1968.7 2973 L1971.6 2975 L1974.5 2977 L1977.4 2979.1 L1980.3 2981.1 L1983.2 2983.1 L1986.1 2985.1 L1989 2987.2 L1991.9 2989.2 L1994.8 2991.2 L1997.7 2993.3 L2000.6 2995.3 L2003.5 2997.4 L2006.4 2999.4 L2009.3 3001.5 L2012.2 3003.6 L2015.1 3005.6 L2018 3007.7 L2020.9 3009.8 L2023.8 3011.9 L2026.7 3014 L2029.6 3016.1 L2032.5 3018.2 L2035.4 3020.3 L2038.3 3022.4 L2041.2 3024.5 L2044.1 3026.6 L2047 3028.7 L2049.9 3030.8 L2052.8 3033 L2055.7 3035.1 L2058.6 3037.2 L2061.5 3039.4 L2064.4 3041.5 L2067.3 3043.6 L2070.2 3045.8 L2073.1 3047.9 L2076 3050.1 L2078.9 3052.2 L2081.8 3054.4 L2084.7 3056.6 L2087.6 3058.7 L2090.4 3060.9 L2093.3 3063.1 L2096.2 3065.3 L2099.1 3067.4 L2102 3069.6" stroke="#000" stroke-width="4.3" fill="none" stroke-linejoin="round" stroke-linecap="round"/>
<rect x="537" y="1875.1" width="15" height="15" fill="#000"/>
<rect x="648.2" y="1942.3" width="15" height="15" fill="#000"/>
<rect x="759.5" y="2076.7" width="15" height="15" fill="#000"/>
<rect x="870.7" y="2244.6" width="15" height="15" fill="#000"/>
<rect x="982" y="2412.6" width="15" height="15" fill="#000"/>
<rect x="1260.1" y="2681.4" width="15" height="15" fill="#000"/>
<rect x="1538.3" y="2748.6" width="15" height="15" fill="#000"/>
<rect x="2094.5" y="3062.1" width="15" height="15" fill="#000"/>
<text font-family="Liberation Sans, Arial, sans-serif" font-size="157" fill="#000" transform="translate(15,1856.5)">(b)</text>
</svg></body></html>
